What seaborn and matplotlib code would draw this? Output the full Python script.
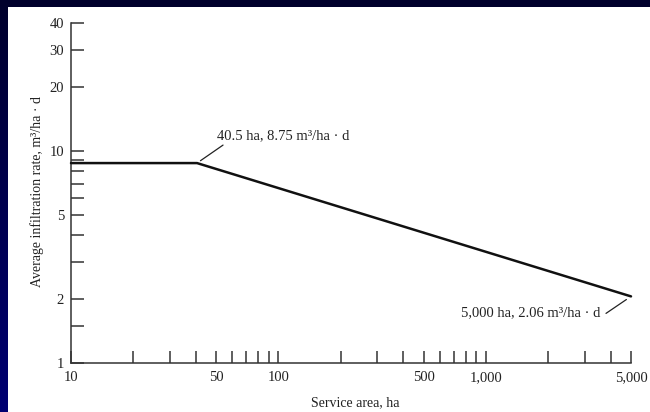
import numpy as np
import pandas as pd
import matplotlib
matplotlib.use("Agg")
import matplotlib.pyplot as plt
from matplotlib.patches import Rectangle
from matplotlib.ticker import FixedLocator, FixedFormatter, NullLocator
import seaborn as sns

# Infiltration design curve: flat up to the break point, then declining on log-log axes
service_area_ha = [10, 40.5, 5000]
infiltration_rate = [8.75, 8.75, 2.06]

x_tick_values = [10, 20, 30, 40, 50, 60, 70, 80, 90, 100, 200, 300, 400, 500,
                 600, 700, 800, 900, 1000, 2000, 3000, 4000, 5000]
x_tick_labels = ["10", "", "", "", "50", "", "", "", "", "100", "", "", "", "500",
                 "", "", "", "", "1,000", "", "", "", "5,000"]
y_tick_values = [1, 1.5, 2, 3, 4, 5, 6, 7, 8, 9, 10, 20, 30, 40]
y_tick_labels = ["1", "", "2", "", "", "5", "", "", "", "", "10", "20", "30", "40"]

break_label = "40.5 ha, 8.75 m\u00b3/ha \u00b7 d"
end_label = "5,000 ha, 2.06 m\u00b3/ha \u00b7 d"

sns.set_style("ticks")
plt.rcParams["font.family"] = ["Liberation Serif", "DejaVu Serif"]

W, H, DPI = 650, 412, 100
fig = plt.figure(figsize=(W / DPI, H / DPI), dpi=DPI)

# Slide-style navy backdrop with a white panel
bg = fig.add_axes([0, 0, 1, 1], zorder=-10)
grad = np.linspace(0, 1, 256).reshape(-1, 1)
navy = matplotlib.colors.LinearSegmentedColormap.from_list("navy", ["#00002c", "#000072"])
bg.imshow(grad, aspect="auto", cmap=navy, extent=[0, 1, 0, 1], origin="upper")
bg.set_axis_off()
fig.add_artist(Rectangle((8 / W, 0), 1, 1 - 7 / H, transform=fig.transFigure,
                         facecolor="white", edgecolor="none", zorder=-5))

ax = fig.add_axes([71 / W, 49 / H, 560 / W, 340 / H])
ax.set_facecolor("none")

df = pd.DataFrame({"area": service_area_ha, "rate": infiltration_rate})
sns.lineplot(data=df, x="area", y="rate", ax=ax, color="#111111", linewidth=1.8,
             clip_on=False, zorder=3)

ax.set_xscale("log")
ax.set_yscale("log")
ax.set_xlim(10, 5000)
ax.set_ylim(1, 40)

ax.xaxis.set_major_locator(FixedLocator(x_tick_values))
ax.xaxis.set_major_formatter(FixedFormatter(x_tick_labels))
ax.xaxis.set_minor_locator(NullLocator())
ax.yaxis.set_major_locator(FixedLocator(y_tick_values))
ax.yaxis.set_major_formatter(FixedFormatter(y_tick_labels))
ax.yaxis.set_minor_locator(NullLocator())

axis_color = "#333333"
for side in ["top", "right"]:
    ax.spines[side].set_visible(False)
for side in ["left", "bottom"]:
    ax.spines[side].set_color(axis_color)
    ax.spines[side].set_linewidth(1.1)

ax.tick_params(axis="both", direction="in", length=9, width=1.1, color=axis_color,
               labelsize=10.5, labelcolor="#222222")
ax.tick_params(axis="x", pad=6)
ax.tick_params(axis="y", pad=5)

ax.set_xlabel("Service area, ha", fontsize=10, color="#222222", va="center")
ax.set_ylabel("Average infiltration rate, m\u00b3/ha \u00b7 d", fontsize=10, color="#222222")
ax.xaxis.set_label_coords(0.507, -0.1176)
ax.yaxis.set_label_coords(-0.048, 0.505)

# Callouts at the break point and at the end of the curve
ax.annotate(break_label, xy=(service_area_ha[1], infiltration_rate[1]),
            xytext=(20, 27), textcoords="offset pixels", ha="left", va="center",
            fontsize=10.5, color="#222222")
ax.annotate("", xy=(service_area_ha[1], infiltration_rate[1]),
            xytext=(26, 18), textcoords="offset pixels",
            arrowprops=dict(arrowstyle="-", color="#222222", lw=0.9,
                            shrinkA=0, shrinkB=3))

ax.annotate(end_label, xy=(service_area_ha[2], infiltration_rate[2]),
            xytext=(-31, -16), textcoords="offset pixels", ha="right", va="center",
            fontsize=10.5, color="#222222", annotation_clip=False)
ax.annotate("", xy=(service_area_ha[2], infiltration_rate[2]),
            xytext=(-25, -17), textcoords="offset pixels",
            arrowprops=dict(arrowstyle="-", color="#222222", lw=0.9,
                            shrinkA=0, shrinkB=4), annotation_clip=False)

fig.savefig("out.png", dpi=DPI)
